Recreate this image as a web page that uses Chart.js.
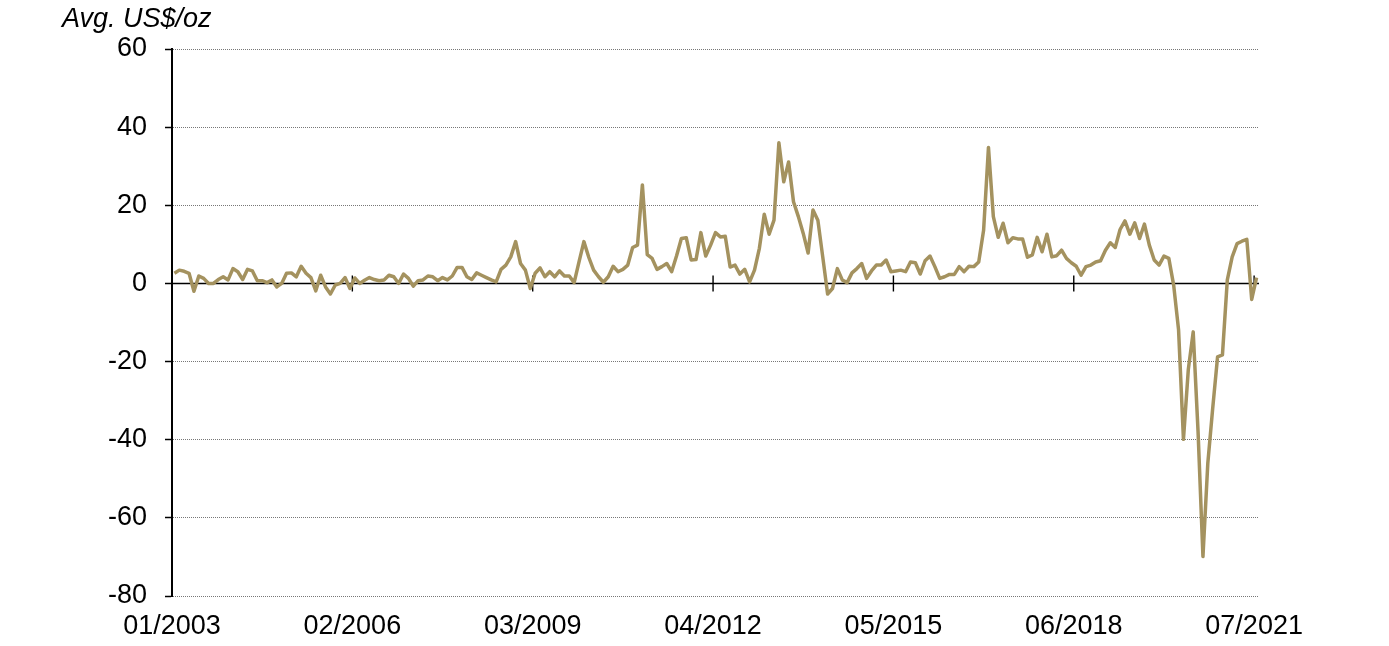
<!DOCTYPE html>
<html>
<head>
<meta charset="utf-8">
<script src="https://cdn.jsdelivr.net/npm/chart.js@4.4.0/dist/chart.umd.min.js"></script>
<style>
  html, body { margin: 0; padding: 0; background: #fff; }
  #wrap { width: 1389px; height: 646px; }
</style>
</head>
<body>
<div id="wrap"><canvas id="chart"></canvas></div>
<script>
// monthly categories, 01/2003 .. 07/2021
const startYear = 2003;
const monthCount = 223;
const months = [];
for (let i = 0; i < monthCount; i++) {
  const m = (i % 12) + 1;
  const yr = startYear + Math.floor(i / 12);
  months.push((m < 10 ? '0' + m : '' + m) + '/' + yr);
}

const tickLabels = ['01/2003', '02/2006', '03/2009', '04/2012', '05/2015', '06/2018', '07/2021'];
const yTicks = [-80, -60, -40, -20, 0, 20, 40, 60];

// average premium, US$/oz
const premium = [
  2.6, 3.4, 3.1, 2.6, -2.0, 1.9, 1.3, 0.0, 0.0, 1.0, 1.7, 0.9,
  3.8, 3.0, 1.0, 3.6, 3.2, 0.7, 0.7, 0.2, 0.9, -0.9, 0.0, 2.6,
  2.7, 1.7, 4.4, 2.6, 1.5, -1.9, 2.1, -0.9, -2.7, -0.4, 0.0, 1.5,
  -1.3, 1.4, 0.0, 0.8, 1.5, 1.0, 0.7, 0.9, 2.1, 1.7, 0.0, 2.4,
  1.3, -0.7, 0.7, 0.9, 1.9, 1.7, 0.7, 1.5, 0.9, 1.9, 4.1, 4.1,
  1.7, 1.0, 2.7, 2.1, 1.5, 0.9, 0.4, 3.6, 4.7, 6.8, 10.7, 5.1,
  3.4, -1.3, 2.6, 4.0, 1.7, 3.0, 1.7, 3.2, 1.9, 1.9, 0.2, 5.5,
  10.7, 6.7, 3.4, 1.7, 0.3, 1.7, 4.4, 3.0, 3.6, 4.7, 9.2, 9.8,
  25.2, 7.4, 6.4, 3.6, 4.3, 5.1, 3.0, 7.0, 11.5, 11.7, 6.0, 6.1,
  13.0, 7.0, 9.8, 13.0, 11.9, 12.1, 4.2, 4.7, 2.4, 3.6, 0.4, 3.4,
  9.0, 17.7, 12.6, 16.2, 36.0, 26.0, 31.1, 20.9, 17.1, 12.8, 7.8, 18.8,
  16.2, 6.8, -2.7, -1.3, 3.8, 0.9, 0.2, 2.7, 3.8, 5.1, 1.3, 3.2,
  4.7, 4.7, 6.0, 3.0, 3.2, 3.4, 3.0, 5.5, 5.3, 2.4, 5.8, 7.0,
  4.3, 1.3, 1.7, 2.3, 2.3, 4.3, 3.0, 4.4, 4.3, 5.5, 13.6, 34.8,
  17.1, 11.8, 15.4, 10.4, 11.7, 11.4, 11.4, 6.7, 7.3, 11.8, 8.1, 12.6,
  6.8, 7.1, 8.5, 6.4, 5.3, 4.4, 2.1, 4.3, 4.7, 5.5, 5.8, 8.5,
  10.4, 9.2, 13.8, 16.0, 12.6, 15.5, 11.5, 15.2, 9.8, 6.0, 4.7, 7.0,
  6.4, -0.5, -11.9, -39.9, -22.0, -12.4, -38.0, -69.9, -46.0, -32.0, -18.8, -18.3,
  0.9, 6.8, 10.2, 10.8, 11.3, -4.1, 1.5
];

const FONT = '"Liberation Sans", Arial, sans-serif';
const LINE_COLOR = '#a4925f';

// zero line with crossing tick marks
const zeroAxis = {
  id: 'zeroAxis',
  beforeDatasetsDraw(chart) {
    const {ctx, chartArea, scales: {x, y}} = chart;
    const y0 = y.getPixelForValue(0);
    ctx.save();
    ctx.strokeStyle = '#000';
    ctx.lineWidth = 1.4;
    ctx.beginPath();
    ctx.moveTo(chartArea.left, y0);
    ctx.lineTo(chartArea.right, y0);
    x.ticks.forEach(t => {
      const px = x.getPixelForValue(t.value);
      if (px > chartArea.left + 2) {
        ctx.moveTo(px, y0 - 8);
        ctx.lineTo(px, y0 + 8);
      }
    });
    ctx.stroke();
    ctx.restore();
  }
};

const unitTitle = {
  id: 'unitTitle',
  afterDraw(chart) {
    const ctx = chart.ctx;
    ctx.save();
    ctx.font = 'italic 27px ' + FONT;
    ctx.fillStyle = '#000';
    ctx.textBaseline = 'alphabetic';
    ctx.textAlign = 'left';
    ctx.fillText('Avg. US$/oz', 62, 27);
    ctx.restore();
  }
};

const config = {
  type: 'line',
  data: {
    datasets: [{
      label: 'Premium',
      data: premium.map((v, i) => ({x: i + 0.5, y: v})),
      borderColor: LINE_COLOR,
      borderWidth: 3.5,
      borderJoinStyle: 'round',
      pointRadius: 0,
      tension: 0,
      fill: false
    }]
  },
  options: {
    responsive: true,
    maintainAspectRatio: false,
    animation: false,
    devicePixelRatio: 1,
    layout: { padding: { top: 49, right: 130, left: 0, bottom: 0 } },
    plugins: { legend: { display: false }, tooltip: { enabled: false } },
    scales: {
      x: {
        type: 'linear',
        min: 0,
        max: monthCount,
        position: 'bottom',
        afterBuildTicks: s => { s.ticks = tickLabels.map((t, i) => ({ value: i * 37 })); },
        afterFit: s => { s.height = 50; },
        ticks: {
          autoSkip: false,
          maxRotation: 0,
          padding: 14,
          color: '#000',
          font: { family: FONT, size: 27 },
          callback: v => months[v]
        },
        grid: { display: false, drawTicks: false },
        border: { display: false }
      },
      y: {
        min: yTicks[0],
        max: yTicks[yTicks.length - 1],
        afterFit: s => { s.width = 172; },
        ticks: {
          stepSize: 20,
          padding: 18,
          color: '#000',
          font: { family: FONT, size: 27 }
        },
        grid: {
          color: c => (c.tick && c.tick.value === 0) ? 'rgba(0,0,0,0)' : '#777',
          lineWidth: 1,
          tickColor: '#000',
          tickLength: 7,
          tickWidth: 1.5
        },
        border: { display: true, color: '#000', width: 2, dash: [1, 1] }
      }
    }
  },
  plugins: [zeroAxis, unitTitle]
};

new Chart(document.getElementById('chart').getContext('2d'), config);
</script>
</body>
</html>
